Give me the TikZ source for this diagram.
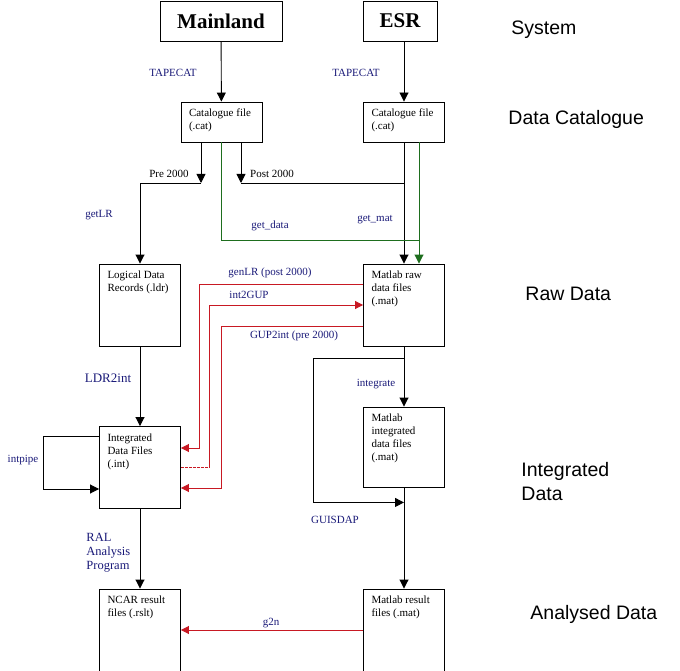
\documentclass[tikz,border=0pt]{standalone}
\usepackage{fontspec}
\setmainfont{Liberation Serif}
\newfontfamily\levelfont{Liberation Sans}
\usetikzlibrary{arrows.meta}
\definecolor{navy}{RGB}{25,25,120}
\definecolor{getred}{RGB}{200,25,35}
\definecolor{getgreen}{RGB}{30,110,30}

\begin{document}
\begin{tikzpicture}[x=1pt, y=-1pt, line width=0.9pt,
  box/.style={draw, minimum width=81pt, minimum height=82pt, inner sep=0pt},
  catbox/.style={box, minimum height=40pt},
  boxtext/.style={anchor=north west, align=left, inner sep=0pt, xshift=8pt, yshift=-7pt,
    font=\fontsize{11}{13}\selectfont},
  sysbox/.style={draw, minimum height=40pt, inner sep=0pt, font=\fontsize{21}{24}\selectfont\bfseries},
  arr/.style={-{Triangle[length=9pt, width=9pt]}},
  redarr/.style={draw=getred, -{Triangle[length=8pt, width=8pt]}},
  prog/.style={text=navy, inner sep=0pt, font=\fontsize{11}{13}\selectfont},
  level/.style={anchor=west, inner sep=0pt, align=left, font=\levelfont\fontsize{19.5}{24}\selectfont}]

\useasboundingbox (0,0) rectangle (680,671);

% systems
\node[sysbox, minimum width=122pt] (mainland) at (221,21) {Mainland};
\node[sysbox, minimum width=74pt] (esr) at (400,21) {ESR};

% boxes
\node[catbox, label={[boxtext]north west:Catalogue file\\(.cat)}] (catL) at (221.5,122) {};
\node[catbox, label={[boxtext]north west:Catalogue file\\(.cat)}] (catR) at (404,122) {};

\node[box, label={[boxtext]north west:Logical Data\\Records (.ldr)}] (ldr) at (140,305) {};
\node[box, label={[boxtext]north west:Matlab raw\\data files\\(.mat)}] (raw) at (404,305) {};

\node[box, label={[boxtext]north west:Integrated\\Data Files\\(.int)}] (intL) at (140,467.5) {};
\node[box, minimum height=80pt, label={[boxtext]north west:Matlab\\integrated\\data files\\(.mat)}] (intR) at (404,447) {};

\node[box, label={[boxtext]north west:NCAR result\\files (.rslt)}] (ncar) at (140,630) {};
\node[box, label={[boxtext]north west:Matlab result\\files (.mat)}] (res) at (404,630) {};

% levels
\node[level] (lsys) at (511,30) {System};
\node[level] (lcat) at (508,119) {Data Catalogue};
\node[level] (lraw) at (525,294) {Raw Data};
\node[level] (lint) at (521,482) {Integrated\\Data};
\node[level] (lana) at (530,614) {Analysed Data};

% program labels
\node[prog] (tapeL) at (173,73) {TAPECAT};
\node[prog] (tapeR) at (356,73) {TAPECAT};
\node[inner sep=0pt, font=\fontsize{11}{13}\selectfont] (pre) at (169,174) {Pre 2000};
\node[inner sep=0pt, font=\fontsize{11}{13}\selectfont] (post) at (272,174) {Post 2000};
\node[prog] (getlr) at (99,215) {getLR};
\node[prog] (getdata) at (270,226) {get\_data};
\node[prog] (getmat) at (375,220) {get\_mat};
\node[prog] (genlr) at (270,273) {genLR (post 2000)};
\node[prog] (int2gup) at (249,295) {int2GUP};
\node[prog] (gup2int) at (294,336) {GUP2int (pre 2000)};
\node[prog, font=\fontsize{13}{15}\selectfont] (ldr2int) at (108,378) {LDR2int};
\node[prog] (integ) at (376,384) {integrate};
\node[prog] (intpipe) at (23,460) {intpipe};
\node[prog] (guisdap) at (335,520) {GUISDAP};
\node[prog, anchor=north west, align=left, font=\fontsize{12.5}{14}\selectfont] (ral) at (86,533) {RAL\\Analysis\\Program};
\node[prog] (g2n) at (271,623) {g2n};

% split points
\coordinate (preend) at (201,183);
\coordinate (postend) at (241,183);
\coordinate (greenL) at (221.5,240);
\coordinate (greenR) at (419,240);

% connectors
\draw[arr] (mainland) -- (catL);
\draw[arr] (catR.north |- esr.south) -- (catR.north);

\draw[arr] (catL.south -| preend) -- (preend);
\draw[arr] (preend) -| (ldr.north);
\draw[arr] (catL.south -| postend) -- (postend);
\draw (postend) -- (postend -| raw);
\draw[arr] (catR) -- (raw);

\draw[getgreen] (catL.south) -- (greenL) -- (greenR);
\draw[draw=getgreen, -{Triangle[length=9pt, width=9pt]}] (catR.south -| greenR) -- (raw.north -| greenR);

\draw[redarr] ([yshift=21pt]raw.west) -| ([xshift=18pt, yshift=19.5pt]intL.east) -- ([yshift=19.5pt]intL.east);
\draw[draw=getred, dash pattern=on 3pt off 1pt] (intL.east) -- ++(28,0) coordinate (gupstart);
\draw[redarr] (gupstart) |- (raw.west);
\draw[redarr] ([yshift=-21pt]raw.west) -| ([xshift=40pt, yshift=-20.5pt]intL.east) -- ([yshift=-20.5pt]intL.east);

\draw[arr] (ldr) -- (intL);
\draw[arr] ([yshift=31.5pt]intL.west) -- ++(-56,0) |- ([yshift=-21.5pt]intL.west);

\draw[arr] (raw) -- (intR);
\draw[arr] ([yshift=-12pt]raw.south) -- ++(-91,0) |- ([yshift=-15pt]intR.south);
\draw[arr] (intR) -- (res);

\draw[arr] (intL) -- (ncar);
\draw[redarr] (res.west) -- (ncar.east);

\end{tikzpicture}
\end{document}
